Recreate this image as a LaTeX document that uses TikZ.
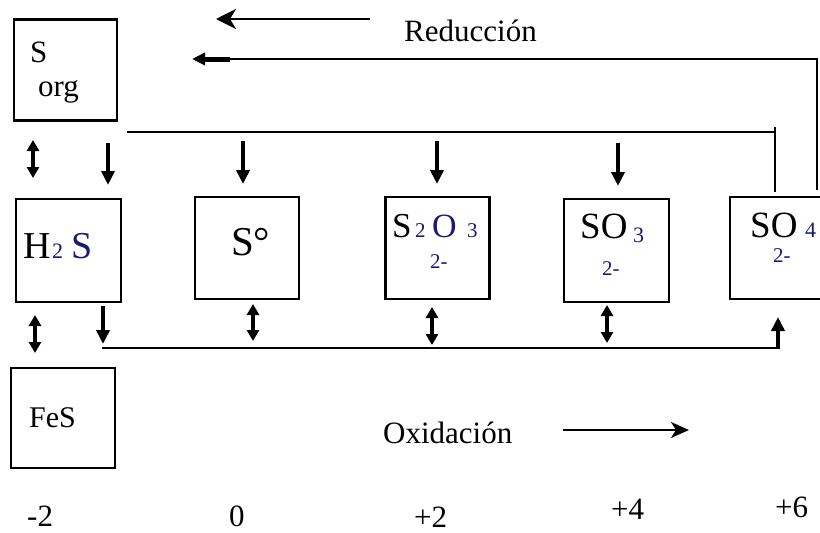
\documentclass[tikz,border=0pt]{standalone}
\usepackage{fontspec}
\setmainfont{Liberation Serif}
\usetikzlibrary{arrows.meta}
\definecolor{navy}{RGB}{25,25,120}
\tikzset{
  box/.style={draw, line width=2.4pt, inner sep=0pt},
  conn/.style={line width=2pt},
  fat/.style={line width=3.6pt, -{Triangle[width=13pt,length=14pt]}},
  dbl/.style={line width=3.6pt, {Triangle[width=12pt,length=11pt]}-{Triangle[width=12pt,length=11pt]}},
  lbl/.style={inner sep=0pt, anchor=base west, font=\fontsize{31}{34}\selectfont},
  big/.style={inner sep=0pt, anchor=base west, font=\fontsize{38}{42}\selectfont},
  sub/.style={inner sep=0pt, anchor=base west, text=navy, font=\fontsize{22}{24}\selectfont},
  chg/.style={inner sep=0pt, anchor=base west, text=navy, font=\fontsize{21}{24}\selectfont},
}
\begin{document}
\begin{tikzpicture}[x=1pt,y=-1pt]
\useasboundingbox (0,0) rectangle (820,533);
% boxes
\node[box, minimum width=103pt, minimum height=101pt] (sorg) at (65.5,70) {};
\node[box, minimum width=105pt, minimum height=103pt] (h2s) at (68.5,250.5) {};
\node[box, minimum width=104pt, minimum height=102pt] (s0) at (247,248) {};
\node[box, minimum width=104pt, minimum height=102pt] (s2o3) at (437.5,248) {};
\node[box, minimum width=105pt, minimum height=103pt] (so3) at (616.5,250.5) {};
\node[box, minimum width=94pt, minimum height=102pt] (so4) at (777,248) {};
\node[box, minimum width=104pt, minimum height=100pt] (fes) at (63,418) {};
% box texts
\node[lbl, font=\fontsize{31}{34}\selectfont] (ts) at (30,62) {S};
\node[lbl, font=\fontsize{31}{34}\selectfont] (torg) at (38,96) {org};
\node[big] (th) at (23,258) {H};
\node[sub] (th2) at (52,258) {2};
\node[big, text=navy] (ths) at (71,258) {S};
\node[big, font=\fontsize{41}{44}\selectfont] (ts0) at (231,255) {S°};
\node[big, font=\fontsize{35}{38}\selectfont] (tss) at (392,237) {S};
\node[sub, font=\fontsize{21}{24}\selectfont] (ts2) at (415,237) {2};
\node[big, text=navy, font=\fontsize{34}{38}\selectfont] (tso) at (432,237) {O};
\node[sub, font=\fontsize{21}{24}\selectfont] (ts3) at (467,237) {3};
\node[chg] (c1) at (430,268) {2-};
\node[big, font=\fontsize{37}{40}\selectfont] (tso3) at (580,238) {SO};
\node[sub] (t3) at (633,242) {3};
\node[chg] (c2) at (602,275) {2-};
\node[big, font=\fontsize{37}{40}\selectfont] (tso4) at (750,237) {SO};
\node[sub] (t4) at (805,237) {4};
\node[chg] (c3) at (773,262) {2-};
\node[lbl, font=\fontsize{30}{33}\selectfont] (tfes) at (29,427) {FeS};
% top labels and arrows
\node[lbl] (red) at (404,41) {Reducción};
\coordinate (ra1) at (370,19);
\coordinate (ra2) at (216,19);
\draw[conn, -{Stealth[width=20pt,length=20pt,inset=6pt]}] (ra1) -- (ra2);
% outer loop from SO4
\coordinate (o1) at (817,190);
\coordinate (o2) at (817,59);
\coordinate (o3) at (228,59);
\coordinate (o4) at (192,59);
\draw[conn] (o1) -- (o2) -- (o3);
\draw[line width=5pt, -{Triangle[width=12pt,length=13pt]}] ([xshift=2pt]o3) -- (o4);
% middle line
\coordinate (m1) at (127,132);
\coordinate (m2) at (775,132);
\coordinate (m3) at (775,127);
\coordinate (m4) at (775,192);
\draw[conn] (m1) -- (m2);
\draw[conn] (m3) -- (m4);
% down arrows
\coordinate (d1a) at (108,143); \coordinate (d1b) at (108,185);
\coordinate (d2a) at (243,141); \coordinate (d2b) at (243,184);
\coordinate (d3a) at (437,141); \coordinate (d3b) at (437,184);
\coordinate (d4a) at (618,143); \coordinate (d4b) at (618,186);
\draw[fat] (d1a) -- (d1b);
\draw[fat] (d2a) -- (d2b);
\draw[fat] (d3a) -- (d3b);
\draw[fat] (d4a) -- (d4b);
\coordinate (u1a) at (33,140); \coordinate (u1b) at (33,178);
\draw[dbl] (u1a) -- (u1b);
% lower row
\coordinate (l1a) at (35,315); \coordinate (l1b) at (35,353);
\draw[dbl] (l1a) -- (l1b);
\coordinate (l2a) at (103,306); \coordinate (l2b) at (103,344);
\draw[fat] (l2a) -- (l2b);
\coordinate (h1) at (102,348); \coordinate (h2) at (780,348);
\draw[conn] (h1) -- (h2);
\coordinate (up1) at (778,349); \coordinate (up2) at (778,317);
\draw[fat] (up1) -- (up2);
\coordinate (l3a) at (253,304); \coordinate (l3b) at (253,341);
\draw[dbl] (l3a) -- (l3b);
\coordinate (l4a) at (432,307); \coordinate (l4b) at (432,345);
\draw[dbl] (l4a) -- (l4b);
\coordinate (l5a) at (607,305); \coordinate (l5b) at (607,343);
\draw[dbl] (l5a) -- (l5b);
% oxidation
\node[lbl] (ox) at (383,443) {Oxidación};
\coordinate (oa1) at (563,430);
\coordinate (oa2) at (689,430);
\draw[conn, -{Stealth[width=16pt,length=18pt,inset=5pt]}] (oa1) -- (oa2);
% oxidation states
\node[lbl] (n1) at (27,526) {-2};
\node[lbl] (n2) at (229,526) {0};
\node[lbl] (n3) at (414,527) {+2};
\node[lbl] (n4) at (611,519) {+4};
\node[lbl] (n5) at (775,517) {+6};
\end{tikzpicture}
\end{document}
